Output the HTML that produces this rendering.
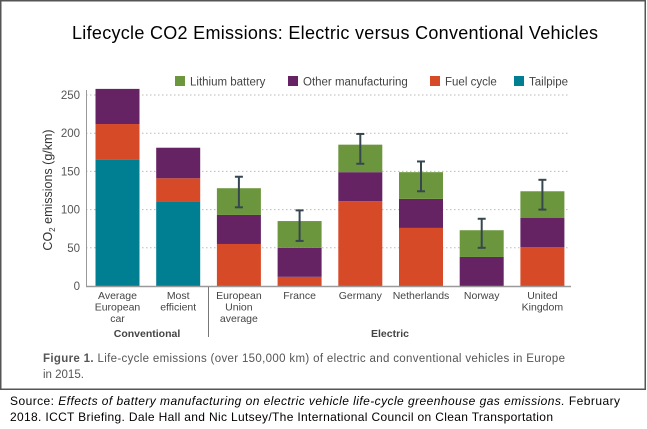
<!DOCTYPE html>
<html><head><meta charset="utf-8"><style>
html,body{margin:0;padding:0;background:#fff;width:647px;height:429px;overflow:hidden}
svg{display:block;font-family:"Liberation Sans",sans-serif}
</style></head><body>
<svg id="chart" width="647" height="429" viewBox="0 0 647 429">
<rect x="0.75" y="0.75" width="644.5" height="388.5" fill="none" stroke="#555" stroke-width="1.5"/>
<text x="72" y="39" font-size="18" fill="#000" textLength="526">Lifecycle CO2 Emissions: Electric versus Conventional Vehicles</text>
<g id="legend" font-size="11.5" fill="#444"></g>
<g id="grid"></g>
<g id="bars"></g>
<g id="axis"></g>
<text transform="translate(52,190) rotate(-90)" text-anchor="middle" font-size="12.5" fill="#333">CO<tspan font-size="8" dy="3">2</tspan><tspan dy="-3"> emissions (g/km)</tspan></text>
<text x="43" y="362" font-size="11.5" fill="#555" textLength="522"><tspan font-weight="bold">Figure 1.</tspan> Life-cycle emissions (over 150,000 km) of electric and conventional vehicles in Europe</text>
<text x="43" y="378" font-size="11.5" fill="#555">in 2015.</text>
<text x="10" y="405" font-size="12" fill="#000" textLength="610">Source: <tspan font-style="italic">Effects of battery manufacturing on electric vehicle life-cycle greenhouse gas emissions.</tspan> February</text>
<text x="10" y="421" font-size="12" fill="#000" textLength="543">2018. ICCT Briefing. Dale Hall and Nic Lutsey/The International Council on Clean Transportation</text>
</svg>
<script>
const categories=[["Average","European","car"],["Most","efficient"],["European","Union","average"],["France"],["Germany"],["Netherlands"],["Norway"],["United","Kingdom"]];
const tailpipe=[165,111,0,0,0,0,0,0];
const fuelCycle=[47,30,55,12,111,76,0,51];
const otherMfg=[46,40,38,38,38,38,38,38];
const battery=[0,0,35,35,36,35,35,35];
const errLow=[null,null,103,59,160,124,50,100];
const errHigh=[null,null,143,99,199,163,88,139];
const yTicks=[0,50,100,150,200,250];
const seriesNames=["Lithium battery","Other manufacturing","Fuel cycle","Tailpipe"];
const colors={tailpipe:"#007f93",fuel:"#d64a27",other:"#652363",battery:"#6b963d"};
const NS="http://www.w3.org/2000/svg";
function y(v){return 286-v*0.764;}
function xc(i){return 117.5+i*60.7;}
function mk(tag,at,parent){const e=document.createElementNS(NS,tag);for(const k in at)e.setAttribute(k,at[k]);parent.appendChild(e);return e;}
const grid=document.getElementById('grid'),bars=document.getElementById('bars'),axis=document.getElementById('axis'),legend=document.getElementById('legend');
yTicks.forEach(t=>{
 if(t>0){const l=mk('line',{x1:86,x2:570,y1:y(t),y2:y(t),stroke:"#bbb","stroke-dasharray":"1.5,2.5","stroke-width":1},grid);
 
 }
 const tx=mk('text',{x:80,y:y(t)+4,"text-anchor":"end","font-size":11.5,fill:"#555"},axis);tx.textContent=t;
 
 
});
const yl=mk('line',{x1:86.5,x2:86.5,y1:90,y2:286,stroke:"#999","stroke-width":1},axis);


const bl=mk('line',{x1:86,x2:571,y1:286.5,y2:286.5,stroke:"#999","stroke-width":1.5},axis);


const dv=mk('line',{x1:208.5,x2:208.5,y1:287,y2:337,stroke:"#777","stroke-width":1},axis);


categories.forEach((c,i)=>{
 const segs=[["tailpipe",tailpipe[i]],["fuel",fuelCycle[i]],["other",otherMfg[i]],["battery",battery[i]]];
 let base=0;
 segs.forEach(([k,v])=>{if(v<=0)return;
  const r=mk('rect',{x:xc(i)-22,width:44,y:y(base+v),height:y(base)-y(base+v),fill:colors[k]},bars);
  
  
  base+=v;});
 if(errLow[i]!=null){
  const g=mk('g',{stroke:"#37474f","stroke-width":2},bars);
  
  
  mk('line',{x1:xc(i),x2:xc(i),y1:y(errLow[i]),y2:y(errHigh[i])},g);
  mk('line',{x1:xc(i)-4,x2:xc(i)+4,y1:y(errLow[i]),y2:y(errLow[i])},g);
  mk('line',{x1:xc(i)-4,x2:xc(i)+4,y1:y(errHigh[i]),y2:y(errHigh[i])},g);
 }
 c.forEach((s,j)=>{const t=mk('text',{x:xc(i),y:299+j*11.5,"text-anchor":"middle","font-size":10.5,fill:"#444"},axis);t.textContent=s;
  
  });
});
const g1=mk('text',{x:147,y:337,"text-anchor":"middle","font-size":10.5,"font-weight":"bold",fill:"#444"},axis);g1.textContent="Conventional";


const g2=mk('text',{x:390,y:337,"text-anchor":"middle","font-size":10.5,"font-weight":"bold",fill:"#444"},axis);g2.textContent="Electric";


const lx=[177,290,432,516],lc=[colors.battery,colors.other,colors.fuel,colors.tailpipe];
seriesNames.forEach((n,i)=>{
 const r=mk('rect',{x:lx[i]-2,y:76,width:10,height:10,fill:lc[i]},legend);
 
 
 const t=mk('text',{x:lx[i]+13,y:85.5,"font-size":11.5,fill:"#444"},legend);t.textContent=n;
 
 
});
</script>
</body></html>
